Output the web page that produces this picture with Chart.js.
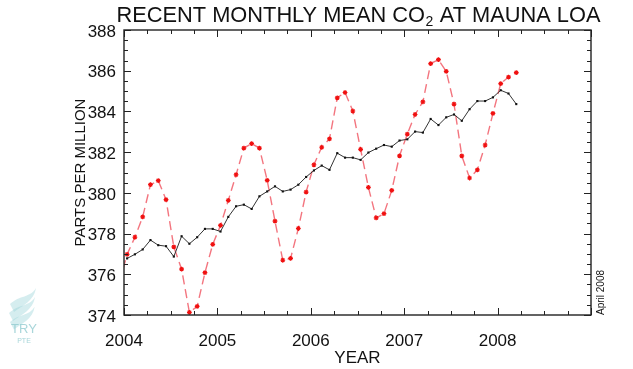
<!DOCTYPE html>
<html><head><meta charset="utf-8">
<script src="https://cdn.jsdelivr.net/npm/chart.js@4.4.1/dist/chart.umd.min.js"></script>
<style>html,body{margin:0;padding:0;background:#fff;overflow:hidden}#wrap{width:633px;height:369px;position:relative}</style>
</head><body><div id="wrap"><canvas id="c" width="633" height="369"></canvas></div>
<script>
// ---- data ----
const months = [
 "2003-12",
 "2004-01","2004-02","2004-03","2004-04","2004-05","2004-06","2004-07","2004-08","2004-09","2004-10","2004-11","2004-12",
 "2005-01","2005-02","2005-03","2005-04","2005-05","2005-06","2005-07","2005-08","2005-09","2005-10","2005-11","2005-12",
 "2006-01","2006-02","2006-03","2006-04","2006-05","2006-06","2006-07","2006-08","2006-09","2006-10","2006-11","2006-12",
 "2007-01","2007-02","2007-03","2007-04","2007-05","2007-06","2007-07","2007-08","2007-09","2007-10","2007-11","2007-12",
 "2008-01","2008-02","2008-03"
];
// red dashed: monthly mean (with seasonal cycle), ppm
const monthlyMean = [
 375.6,
 376.98,377.82,378.82,380.40,380.60,379.67,377.35,376.25,374.13,374.42,376.08,377.47,
 378.40,379.63,380.89,382.20,382.42,382.20,380.61,378.61,376.69,376.78,378.25,380.04,
 381.38,382.24,382.65,384.67,384.93,384.02,382.14,380.27,378.77,378.98,380.12,381.82,
 382.89,383.85,384.47,386.35,386.54,385.97,384.36,381.82,380.73,381.13,382.35,383.90,
 385.37,385.69,385.91
];
// black solid: seasonally corrected, ppm
const seasonallyCorrected = [
 null,
 376.78,376.98,377.22,377.68,377.43,377.38,376.87,377.87,377.50,377.82,378.23,378.23,
 378.10,378.82,379.34,379.42,379.21,379.83,380.07,380.32,380.07,380.16,380.40,380.78,
 381.10,381.34,381.13,381.95,381.73,381.73,381.62,381.98,382.17,382.35,382.27,382.57,
 382.63,383.01,382.96,383.63,383.33,383.71,383.85,383.54,384.11,384.51,384.51,384.69,
 385.04,384.88,384.36
];
const yTickValues = [374,376,378,380,382,384,386,388];
const xTickYears = [2004,2005,2006,2007,2008];
const xRange = [2004, 2009];

const FONT = "'Liberation Sans', Arial, Helvetica, sans-serif";
const toX = s => { const p = s.split('-').map(Number); return p[0] + (p[1] - 0.6) / 12; };
const pts = arr => months.map((m, i) => ({x: toX(m), y: arr[i]}));

const framePlugin = {
  id: 'frame',
  afterDatasetsDraw(chart) {
    const {ctx, chartArea: a, scales: {x, y}} = chart;
    ctx.save();
    ctx.strokeStyle = '#222';
    ctx.lineWidth = 1.4;
    ctx.strokeRect(a.left, a.top, a.right - a.left, a.bottom - a.top);
    ctx.lineWidth = 1;
    ctx.beginPath();
    const yMin = yTickValues[0], yMax = yTickValues[yTickValues.length - 1];
    for (let k = 0; k <= (yMax - yMin) * 2; k++) {
      const v = yMin + k * 0.5;
      const py = Math.round(y.getPixelForValue(v)) + 0.5;
      const len = (k % 4 === 0) ? 7 : 4;
      ctx.moveTo(a.left, py); ctx.lineTo(a.left + len, py);
      ctx.moveTo(a.right, py); ctx.lineTo(a.right - len, py);
    }
    for (let k = 0; k <= (xRange[1] - xRange[0]) * 4; k++) {
      const t = xRange[0] + k * 0.25;
      const px = Math.round(x.getPixelForValue(t)) + 0.5;
      const len = (k % 4 === 0) ? 7 : 4;
      ctx.moveTo(px, a.bottom); ctx.lineTo(px, a.bottom - len);
      ctx.moveTo(px, a.top); ctx.lineTo(px, a.top + len);
    }
    ctx.stroke();
    ctx.restore();
  },
  afterDraw(chart) {
    const {ctx, chartArea: a} = chart;
    ctx.save();
    ctx.fillStyle = '#111';
    // title with subscript 2
    const big = '21.8px ' + FONT, small = '14px ' + FONT;
    const p1 = 'RECENT MONTHLY MEAN CO', p2 = '2', p3 = ' AT MAUNA LOA';
    ctx.font = big; const w1 = ctx.measureText(p1).width, w3 = ctx.measureText(p3).width;
    ctx.font = small; const w2 = ctx.measureText(p2).width;
    let sx = 358 - (w1 + w2 + w3) / 2;
    const base = 22;
    ctx.textBaseline = 'alphabetic'; ctx.textAlign = 'left';
    ctx.font = big; ctx.fillText(p1, sx, base);
    ctx.font = small; ctx.fillText(p2, sx + w1 + 0.5, base + 4);
    ctx.font = big; ctx.fillText(p3, sx + w1 + w2 + 1, base);
    // April 2008 stamp
    ctx.save();
    ctx.translate(604, a.bottom);
    ctx.rotate(-Math.PI / 2);
    ctx.font = '10px ' + FONT;
    ctx.textAlign = 'left'; ctx.textBaseline = 'alphabetic';
    ctx.fillText('April 2008', 0, 0);
    ctx.restore();
    // watermark logo
    ctx.fillStyle = 'rgba(150,210,215,0.4)';
    const leaf = (ox, oy, s) => {
      ctx.beginPath();
      ctx.moveTo(ox, oy);
      ctx.bezierCurveTo(ox + 10*s, oy - 9*s, ox + 20*s, oy - 6*s, ox + 26*s, oy - 16*s);
      ctx.bezierCurveTo(ox + 24*s, oy - 3*s, ox + 12*s, oy + 2*s, ox + 4*s, oy + 8*s);
      ctx.closePath(); ctx.fill();
    };
    leaf(10, 304, 1); leaf(9, 313, 1.0); leaf(10, 322, 0.95);
    ctx.fillStyle = 'rgba(140,200,205,0.75)';
    ctx.textAlign = 'center'; ctx.textBaseline = 'middle';
    ctx.font = '13px ' + FONT; ctx.fillText('TRY', 24, 329);
    ctx.font = '7px ' + FONT; ctx.fillText('PTE', 24, 341);
    ctx.restore();
  }
};

new Chart(document.getElementById('c'), {
  type: 'scatter',
  data: {
    datasets: [
      {
        label: 'Seasonally corrected',
        data: pts(seasonallyCorrected),
        showLine: true, spanGaps: true,
        borderColor: '#333', borderWidth: 1,
        pointStyle: 'rect', pointRadius: 1.5,
        pointBackgroundColor: '#111', pointBorderColor: '#111', pointBorderWidth: 0,
        order: 0
      },
      {
        label: 'Monthly mean',
        data: pts(monthlyMean),
        showLine: true,
        borderColor: 'rgba(242,110,120,0.95)', borderWidth: 1.4, borderDash: [9, 5],
        pointStyle: 'star', pointRadius: 2.4,
        pointBorderColor: '#f01010', pointBackgroundColor: '#f01010', pointBorderWidth: 1.2,
        clip: {left: 0, top: false, right: false, bottom: false},
        order: 1
      }
    ]
  },
  options: {
    responsive: false, animation: false, devicePixelRatio: 1,
    layout: {padding: {top: 30, right: 42, bottom: 0, left: 0}},
    plugins: {legend: {display: false}, tooltip: {enabled: false}, title: {display: false}},
    scales: {
      x: {
        type: 'linear', min: xRange[0], max: xRange[1],
        afterFit(s) { s.height = 54; },
        afterBuildTicks(s) { s.ticks = xTickYears.map(v => ({value: v})); },
        grid: {display: false}, border: {display: false},
        ticks: {color: '#111', padding: 8, font: {family: FONT, size: 17}, maxRotation: 0, autoSkip: false,
                callback: v => String(v)},
        title: {display: true, text: 'YEAR', color: '#111', font: {family: FONT, size: 17}, padding: {top: 0, bottom: 0}}
      },
      y: {
        type: 'linear', min: yTickValues[0], max: yTickValues[yTickValues.length - 1],
        afterFit(s) { s.width = 124; },
        afterBuildTicks(s) { s.ticks = yTickValues.map(v => ({value: v})); },
        grid: {display: false}, border: {display: false},
        ticks: {color: '#111', padding: 0, labelOffset: 2, font: {family: FONT, size: 17}, callback: v => String(v)},
        title: {display: true, text: 'PARTS PER MILLION', color: '#111', font: {family: FONT, size: 15}, padding: {top: 72, bottom: 0}}
      }
    }
  },
  plugins: [framePlugin]
});
</script>
</body></html>
